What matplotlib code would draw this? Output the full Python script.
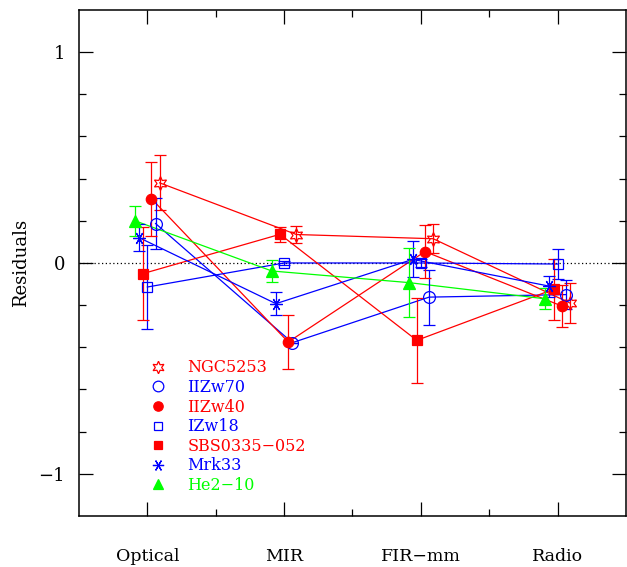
import numpy as np
import matplotlib
matplotlib.use('Agg')
import matplotlib.pyplot as plt
from matplotlib.lines import Line2D

plt.rcParams['font.family'] = 'DejaVu Serif'

# Bands on the x axis
categories = ['Optical', 'MIR', 'FIR\u2212mm', 'Radio']

# Residuals and errors per galaxy (Optical, MIR, FIR-mm, Radio)
names = ['NGC5253', 'IIZw70', 'IIZw40', 'IZw18', 'SBS0335\u2212052', 'Mrk33', 'He2\u221210']
ngc5253 = [0.38, 0.135, 0.115, -0.19]
ngc5253_err = [0.13, 0.04, 0.07, 0.095]
iizw70 = [0.187, -0.378, -0.162, -0.15]
iizw70_err = [0.12, 0.0, 0.13, 0.07]
iizw40 = [0.305, -0.375, 0.054, -0.204]
iizw40_err = [0.175, 0.13, 0.125, 0.1]
izw18 = [-0.114, 0.0, 0.0, -0.005]
izw18_err = [0.2, 0.01, 0.02, 0.07]
sbs0335 = [-0.05, 0.136, -0.367, -0.125]
sbs0335_err = [0.22, 0.035, 0.2, 0.145]
mrk33 = [0.12, -0.193, 0.017, -0.11]
mrk33_err = [0.065, 0.055, 0.085, 0.05]
he210 = [0.2, -0.038, -0.093, -0.17]
he210_err = [0.07, 0.05, 0.165, 0.05]

values = [ngc5253, iizw70, iizw40, izw18, sbs0335, mrk33, he210]
errors = [ngc5253_err, iizw70_err, iizw40_err, izw18_err, sbs0335_err, mrk33_err, he210_err]

# styling
colors = ['red', 'blue', 'red', 'blue', 'red', 'blue', '#00ff00']
markers = [(6, 1, 0), 'o', 'o', 's', 's', (6, 2, 90), '^']
filled = [False, False, True, False, True, True, True]
msizes = [10, 8.5, 7.5, 7, 7, 9, 8]
offsets = [0.09, 0.06, 0.03, 0.0, -0.03, -0.06, -0.09]

fig = plt.figure(figsize=(6.27, 5.67), dpi=100)
ax = fig.add_axes([0.126, 0.09, 0.8724, 0.8924])

ax.axhline(0, color='black', lw=0.9, ls=(0, (1, 2)), zorder=1)

x = np.arange(1, len(categories) + 1)
handles = []
for vals, errs, c, m, f, ms, off in zip(values, errors, colors, markers, filled, msizes, offsets):
    xs = x + off
    ax.plot(xs, vals, '-', color=c, lw=0.9, zorder=2)
    ax.errorbar(xs, vals, yerr=errs, fmt='none', ecolor=c, elinewidth=0.9,
                capsize=4.5, capthick=0.9, zorder=3)
    fc = c if f else 'none'
    ax.plot(xs, vals, ls='none', marker=m, ms=ms, mfc=fc, mec=c, mew=0.9, zorder=4)
    handles.append(Line2D([], [], ls='none', marker=m, ms=ms * 0.9, mfc=fc, mec=c, mew=0.9))

leg = ax.legend(handles, names, loc='upper left', bbox_to_anchor=(0.116, 0.322),
                frameon=False, fontsize=11.5, handlelength=1.2, handletextpad=1.2,
                labelspacing=0.16, labelcolor=colors, borderaxespad=0)

ax.set_xlim(0.5, 4.5)
ax.set_ylim(-1.2, 1.2)
ax.set_xticks(x)
ax.set_xticklabels(categories, fontsize=12.5)
ax.set_xticks([1.5, 2.5, 3.5], minor=True)
ax.set_yticks([-1, 0, 1])
ax.set_yticklabels(['\u22121', '0', '1'], fontsize=13)
ax.set_yticks([-0.8, -0.6, -0.4, -0.2, 0.2, 0.4, 0.6, 0.8], minor=True)
ax.tick_params(which='both', direction='in', top=True, right=True, width=0.9)
ax.tick_params(which='major', length=10)
ax.tick_params(which='minor', length=5)
ax.tick_params(axis='x', which='major', pad=23)
ax.tick_params(axis='y', which='major', pad=10)
for s in ax.spines.values():
    s.set_linewidth(1.1)
ax.set_ylabel('Residuals', fontsize=13, labelpad=6)

fig.savefig('out.png', dpi=100)
